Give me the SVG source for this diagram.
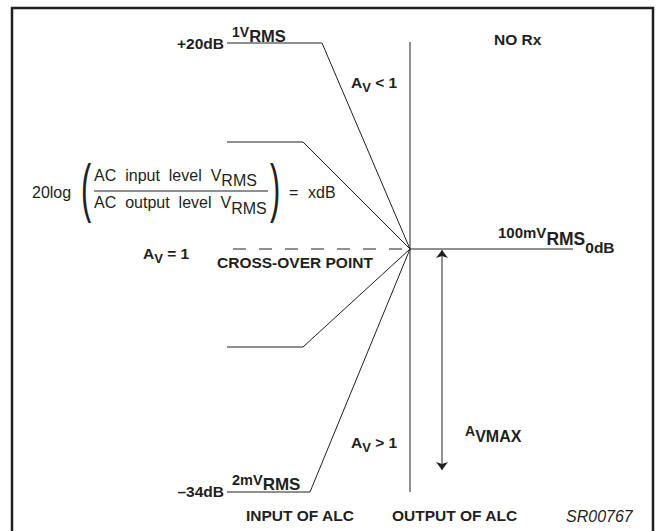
<svg xmlns="http://www.w3.org/2000/svg" width="656" height="531" viewBox="0 0 656 531">
<style>
.b{font-family:"Liberation Sans",Arial,sans-serif;font-weight:bold;fill:#231f20}
.n{font-family:"Liberation Sans",Arial,sans-serif;fill:#231f20}
.ln{stroke:#231f20;stroke-width:1;fill:none}
</style>
<defs>
<marker id="ah" viewBox="0 0 8 14" refX="8" refY="7" markerWidth="8" markerHeight="14" markerUnits="userSpaceOnUse" orient="auto-start-reverse">
<path d="M0,1 L8,7 L0,13 L2,7 Z" fill="#231f20"/>
</marker>
</defs>
<rect width="656" height="531" fill="#fff"/>
<path d="M12,540 V8 H653 V540" fill="none" stroke="#231f20" stroke-width="2.5"/>
<g id="connectors">
<line class="ln" x1="410" y1="42" x2="410" y2="492" stroke="#444"/>
<path class="ln" d="M227,43 H322 L410,249"/>
<path class="ln" d="M227,142 H303 L410,249"/>
<path class="ln" d="M227,347 H303 L410,249"/>
<path class="ln" d="M227,492 H310 L410,249"/>
<line class="ln" x1="233" y1="249" x2="410" y2="249" stroke-dasharray="13 13"/>
<line class="ln" x1="410" y1="249" x2="573" y2="249"/>
<line class="ln" x1="442" y1="250" x2="442" y2="470" marker-start="url(#ah)" marker-end="url(#ah)"/>
</g>
<g id="label-20db">
<text class="b" x="224" y="49" font-size="15.5" text-anchor="end">+20dB</text>
<text class="b" x="232" y="37" font-size="14">1V<tspan font-size="16.5" dy="5">RMS</tspan></text>
</g>
<g id="label-norx"><text class="b" x="494" y="45" font-size="15.5">NO Rx</text></g>
<g id="label-av-lt1"><text class="b" x="351" y="88" font-size="15.5">A<tspan font-size="13" dy="4">V</tspan><tspan dy="-4"> &lt; 1</tspan></text></g>
<g id="formula">
<text class="n" x="32" y="198" font-size="16">20log</text>
<text class="n" font-size="64" transform="translate(81,210) scale(0.48,1)">(</text>
<text class="n" font-size="64" transform="translate(270,210) scale(0.48,1)">)</text>
<text class="n" x="94" y="181" font-size="16" word-spacing="4.5">AC input level V<tspan dy="5">RMS</tspan></text>
<line class="ln" x1="94" y1="191" x2="268" y2="191"/>
<text class="n" x="94" y="208" font-size="16" word-spacing="4.5">AC output level V<tspan dy="6">RMS</tspan></text>
<text class="n" y="198" font-size="16"><tspan x="289">=</tspan><tspan x="308">xdB</tspan></text>
</g>
<g id="label-100mv"><text class="b" x="498" y="238" font-size="15">100mV<tspan font-size="17.5" dy="7">RMS</tspan><tspan font-size="15.5" dy="8">0dB</tspan></text></g>
<g id="label-av-eq1"><text class="b" x="143" y="259" font-size="15.5">A<tspan font-size="13" dy="4">V</tspan><tspan dy="-4"> = 1</tspan></text></g>
<g id="label-crossover"><text class="b" x="217" y="268" font-size="15.5">CROSS-OVER POINT</text></g>
<g id="label-avmax"><text class="b" x="465" y="436" font-size="14">A<tspan font-size="16" dy="6">VMAX</tspan></text></g>
<g id="label-av-gt1"><text class="b" x="351" y="448" font-size="15.5">A<tspan font-size="13" dy="4">V</tspan><tspan dy="-4"> &gt; 1</tspan></text></g>
<g id="label-34db">
<text class="b" x="224" y="497" font-size="15.5" text-anchor="end">–34dB</text>
<text class="b" x="232" y="485" font-size="14.5">2mV<tspan font-size="17" dy="5">RMS</tspan></text>
</g>
<g id="label-input"><text class="b" x="246" y="521" font-size="15.5">INPUT OF ALC</text></g>
<g id="label-output"><text class="b" x="392" y="521" font-size="15.5">OUTPUT OF ALC</text></g>
<g id="label-sr"><text class="n" x="566" y="522" font-size="16" font-style="italic">SR00767</text></g>
</svg>
